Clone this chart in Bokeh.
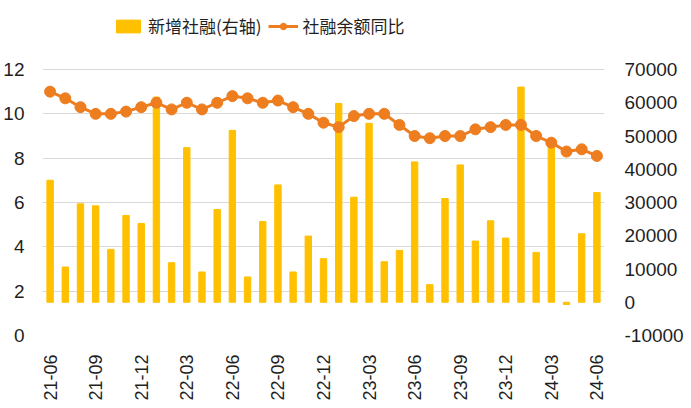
from bokeh.plotting import figure
from bokeh.models import Range1d, LinearAxis, FixedTicker, Legend, LegendItem
from bokeh.embed import file_html
from bokeh.resources import INLINE
import math

months = ["21-06", "21-07", "21-08", "21-09", "21-10", "21-11", "21-12",
          "22-01", "22-02", "22-03", "22-04", "22-05", "22-06", "22-07", "22-08", "22-09", "22-10", "22-11", "22-12",
          "23-01", "23-02", "23-03", "23-04", "23-05", "23-06", "23-07", "23-08", "23-09", "23-10", "23-11", "23-12",
          "24-01", "24-02", "24-03", "24-04", "24-05", "24-06"]
new_financing = [36700, 10600, 29600, 29000, 15900, 26100, 23700,
                 61700, 11900, 46500, 9100, 27900, 51700, 7600, 24300, 35300, 9100, 19900, 13100,
                 59800, 31600, 53800, 12200, 15600, 42200, 5300, 31200, 41300, 18400, 24500, 19300,
                 64700, 15000, 48700, -650, 20600, 33000]
stock_yoy = [11.0, 10.7, 10.3, 10.0, 10.0, 10.1, 10.3,
             10.5, 10.2, 10.5, 10.2, 10.5, 10.8, 10.7, 10.5, 10.6, 10.3, 10.0, 9.6,
             9.4, 9.9, 10.0, 10.0, 9.5, 9.0, 8.9, 9.0, 9.0, 9.3, 9.4, 9.5,
             9.5, 9.0, 8.7, 8.3, 8.4, 8.1]
left_ticks = [0, 2, 4, 6, 8, 10, 12]
right_ticks = [-10000, 0, 10000, 20000, 30000, 40000, 50000, 60000, 70000]

xs = list(range(len(months)))
label_idx = list(range(0, len(months), 3))

BAR = "#FFC000"
LINE = "#ED7D1F"
TXT = "#1F1F1F"
FONT = "Liberation Sans"

# the plotting frame extends above the top tick so the legend fits inside it
AXIS_PX = 266
TOP_PX = 321
left_top = 12 + (TOP_PX - AXIS_PX) * 12 / AXIS_PX
right_top = 70000 + (TOP_PX - AXIS_PX) * 80000 / AXIS_PX

p = figure(width=675, height=400, frame_width=562, frame_height=TOP_PX,
           min_border_left=30, min_border_right=83, min_border_top=14, min_border_bottom=65,
           x_range=Range1d(-0.5, len(months) - 0.5), y_range=Range1d(0, left_top),
           output_backend="svg", toolbar_location=None, y_axis_location=None)
p.extra_y_ranges = {"right": Range1d(-10000, right_top)}
p.outline_line_color = None
p.background_fill_color = "white"

bars = p.vbar(x=xs, top=new_financing, bottom=0, width=0.42, color=BAR, y_range_name="right")
line = p.line(xs, stock_yoy, line_width=3, color=LINE)
dots = p.scatter(xs, stock_yoy, size=11, color=LINE)

left = LinearAxis(ticker=FixedTicker(ticks=left_ticks))
p.add_layout(left, "left")
right = LinearAxis(y_range_name="right", ticker=FixedTicker(ticks=right_ticks))
right.major_label_overrides = {t: str(t) for t in right_ticks}
p.add_layout(right, "right")

for ax in (left, right):
    ax.axis_line_color = None
    ax.major_tick_line_color = None
    ax.minor_tick_line_color = None
    ax.major_label_text_font = FONT
    ax.major_label_text_font_size = "19px"
    ax.major_label_text_color = TXT
left.major_label_standoff = 12
right.major_label_standoff = 14

xa = p.xaxis[0]
xa.ticker = FixedTicker(ticks=label_idx)
xa.major_label_overrides = {i: months[i] for i in label_idx}
xa.major_label_orientation = math.pi / 2
xa.axis_line_color = None
xa.major_tick_line_color = None
xa.minor_tick_line_color = None
xa.major_label_text_font = FONT
xa.major_label_text_font_size = "18px"
xa.major_label_text_color = TXT
xa.major_label_standoff = 13

p.xgrid.grid_line_color = None
p.ygrid.ticker = FixedTicker(ticks=left_ticks)
p.ygrid.grid_line_color = "#D9D9D9"
p.ygrid.grid_line_width = 1

legend = Legend(items=[LegendItem(label="新增社融(右轴)", renderers=[bars]),
                       LegendItem(label="社融余额同比", renderers=[line, dots])],
                orientation="horizontal", location=(71, 297))
legend.label_text_font = "Noto Sans CJK SC"
legend.label_text_font_size = "17px"
legend.label_text_color = TXT
legend.border_line_color = None
legend.background_fill_alpha = 0
legend.padding = 0
legend.margin = 0
legend.spacing = 6
legend.label_standoff = 5
legend.glyph_width = 30
legend.glyph_height = 16
p.add_layout(legend)

open("out.html", "w").write(file_html(p, INLINE))
